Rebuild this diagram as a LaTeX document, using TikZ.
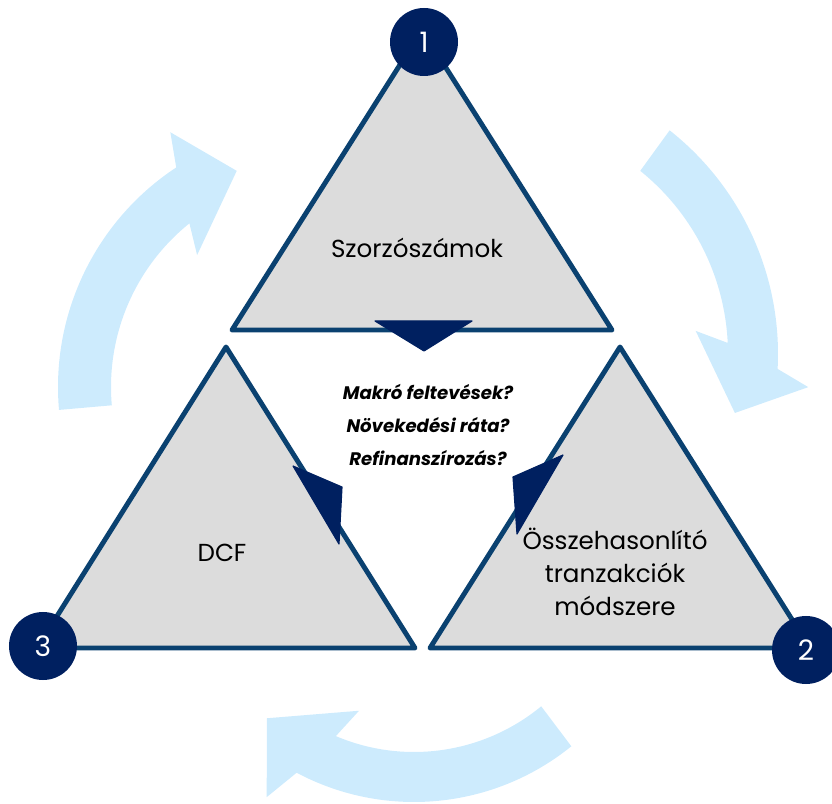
\documentclass[tikz,border=0pt]{standalone}
\usepackage{fontspec}
\setmainfont{Poppins}
\usetikzlibrary{calc}

\definecolor{navy}{HTML}{002060}
\definecolor{edge}{HTML}{0A4170}
\definecolor{panel}{HTML}{DCDCDC}
\definecolor{sky}{HTML}{CDEBFD}

\begin{document}
\begin{tikzpicture}[
    x=0.03cm, y=0.03cm,
    tri/.style={draw=edge, fill=panel, line width=4.2pt, line join=round},
    num/.style={circle, fill=navy, text=white, minimum size=2.04cm, inner sep=0pt, font=\fontsize{24}{24}\selectfont},
    lbl/.style={align=center, font=\fontsize{21}{28}\selectfont},
    ask/.style={align=center, font=\fontsize{15.5}{28}\selectfont\bfseries\itshape},
    wedge/.style={fill=navy, draw=navy, line width=1pt, line join=round},
    flow/.style={fill=sky}
]
    \useasboundingbox (0,0) rectangle (832,803);

    % Light cycle arrows (clockwise 1 -> 2 -> 3)
    \coordinate (cl) at (321,416);
    \fill[flow] ($(cl)+(185:263)$) arc[start angle=185, end angle=123.4, radius=263]
        -- ($(cl)+(120.6:296)$) -- ($(cl)+(111.3:232)$) -- ($(cl)+(133.2:181)$)
        -- ($(cl)+(128.8:210)$) arc[start angle=128.8, end angle=185, radius=210] -- cycle;

    \coordinate (cr) at (493,449);
    \fill[flow] ($(cr)+(51.7:285)$) arc[start angle=51.7, end angle=-3, radius=285]
        -- ($(cr)+(-6:317)$) -- ($(cr)+(-13.7:249)$) -- ($(cr)+(6.5:204)$)
        -- ($(cr)+(2.7:235)$) arc[start angle=2.7, end angle=51.2, radius=235] -- cycle;

    \coordinate (cb) at (414,251);
    \fill[flow] ($(cb)+(-51:250)$) arc[start angle=-51, end angle=-118, radius=250]
        -- ($(cb)+(-121:286)$) -- ($(cb)+(-131.5:222)$) -- ($(cb)+(-109.1:168)$)
        -- ($(cb)+(-113:200)$) arc[start angle=-113, end angle=-50.5, radius=200] -- cycle;

    % The three methods
    \draw[tri] (422,773) -- (612,473) -- (232,473) -- cycle;
    \draw[tri] (226,456) -- (415,155) -- (37,155) -- cycle;
    \draw[tri] (620,456) -- (810,155) -- (430,155) -- cycle;

    % Pointers to the middle
    \filldraw[wedge] (375,482) -- (472,482) -- (424,452) -- cycle;
    \filldraw[wedge] (293,337) -- (339,259) -- (342,316) -- cycle;
    \filldraw[wedge] (563,348) -- (517,269) -- (513,326) -- cycle;

    \node[lbl] (mult) at (417,555) {Szorzószámok};
    \node[lbl] (dcf) at (222,250) {DCF};
    \node[lbl] (comp) at (615,231) {Összehasonlító\\tranzakciók\\módszere};
    \node[ask] (quest) at (428,378) {Makró feltevések?\\Növekedési ráta?\\Refinanszírozás?};

    % Numbered corners
    \node[num] (n1) at (424,761) {1};
    \node[num] (n2) at (806,153) {2};
    \node[num] (n3) at (43,157) {3};
\end{tikzpicture}
\end{document}
